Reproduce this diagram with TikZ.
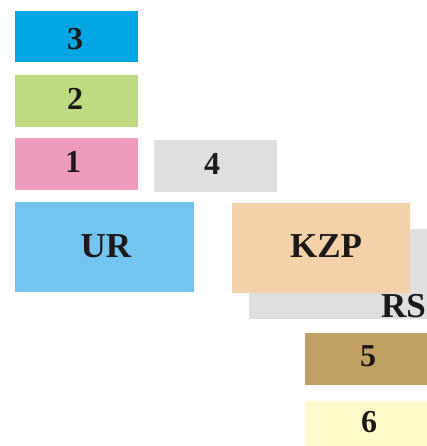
\documentclass[tikz,border=0pt]{standalone}
\usepackage{fontspec}
\setmainfont{Liberation Serif}
\definecolor{cA}{RGB}{0,166,227}
\definecolor{cB}{RGB}{190,219,130}
\definecolor{cC}{RGB}{239,155,189}
\definecolor{cG}{RGB}{223,223,222}
\definecolor{cUR}{RGB}{115,196,239}
\definecolor{cKZP}{RGB}{244,209,168}
\definecolor{cF}{RGB}{193,160,99}
\definecolor{cS}{RGB}{255,251,203}
\definecolor{txt}{RGB}{30,25,25}
\tikzset{
  digit/.style={anchor=base, inner sep=0pt, text=txt, font=\bfseries\fontsize{32}{32}\selectfont},
  caps/.style={anchor=base, inner sep=0pt, text=txt, font=\bfseries\fontsize{35}{35}\selectfont}
}
\begin{document}
\begin{tikzpicture}[x=1pt,y=-1pt]
\useasboundingbox (0,0) rectangle (427,446);
\fill[cA] (15,11) rectangle (138,62);
\fill[cB] (15,75) rectangle (138,127);
\fill[cC] (15,138) rectangle (138,190);
\fill[cG] (154,140) rectangle (277,192);
\fill[cUR] (15,202) rectangle (194,292);
\fill[cG] (249,229) rectangle (427,319);
\fill[cKZP] (232,203) rectangle (410,293);
\fill[cF] (305,333) rectangle (427,385);
\fill[cS] (305,401) rectangle (427,446);
\node[digit] (n3) at (75,50) {3};
\node[digit] (n2) at (75,110) {2};
\node[digit] (n1) at (73,172) {1};
\node[digit] (n4) at (212,175) {4};
\node[caps] (ur) at (106,257) {UR};
\node[caps] (kzp) at (326,257) {KZP};
\node[caps, anchor=base east] (rs) at (426,317) {RS};
\node[digit] (n5) at (368,366) {5};
\node[digit] (n6) at (369,432) {6};
\end{tikzpicture}
\end{document}
